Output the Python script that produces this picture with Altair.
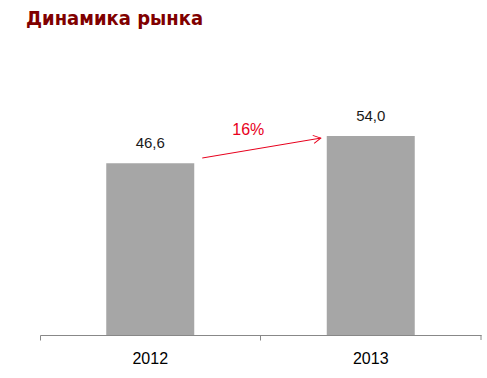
import altair as alt
import pandas as pd

years = ["2012", "2013"]
values = [46.6, 54.0]
value_labels = ["46,6", "54,0"]

# arrow (drawn between the bars) start/end levels, in chart units
arrow_years = ["2012", "2013"]
arrow_levels = [48.0, 53.4]
growth_label_level = 55.6

growth = round((values[1] / values[0] - 1) * 100)
growth_text = f"{growth}%"

bars_df = pd.DataFrame({"year": years, "value": values, "label": value_labels})
arrow_df = pd.DataFrame({
    "x": [arrow_years[0]], "x2": [arrow_years[1]],
    "y": [arrow_levels[0]], "y2": [arrow_levels[1]],
})
head_df = pd.DataFrame({"x": [arrow_years[1]], "y": [arrow_levels[1]]})
growth_df = pd.DataFrame({"x": [arrow_years[0]], "y": [growth_label_level], "t": [growth_text]})

W, H = 441, 295
x_scale = alt.Scale(domain=years, paddingInner=0, paddingOuter=0)
y_scale = alt.Scale(domain=[0, 80])

x_enc = alt.X(
    "year:N", scale=x_scale, title=None,
    axis=alt.Axis(
        labelAngle=0, bandPosition=0, ticks=True, tickSize=5,
        tickColor="#888888", domainColor="#888888",
        labelFont="Liberation Sans", labelFontSize=16, labelColor="#000000",
        labelPadding=10, grid=False,
    ),
)

bars = alt.Chart(bars_df).mark_bar(size=88, color="#A6A6A6").encode(
    x=x_enc,
    y=alt.Y("value:Q", scale=y_scale, axis=None),
)

labels = alt.Chart(bars_df).mark_text(
    baseline="bottom", dy=-12, font="Liberation Sans", fontSize=15, color="#1a1a1a"
).encode(
    x=alt.X("year:N", scale=x_scale),
    y=alt.Y("value:Q", scale=y_scale),
    text="label:N",
)

arrow = alt.Chart(arrow_df).mark_rule(
    color="#E8001C", strokeWidth=1, xOffset=52, x2Offset=-50
).encode(
    x=alt.X("x:N", scale=x_scale),
    x2="x2",
    y=alt.Y("y:Q", scale=y_scale),
    y2="y2",
)

head = alt.Chart(head_df).mark_point(
    shape="M-1,-0.55L0,0L-1,0.55", filled=False, color="#E8001C",
    strokeWidth=1, size=220, angle=350, xOffset=-50, opacity=1,
).encode(
    x=alt.X("x:N", scale=x_scale),
    y=alt.Y("y:Q", scale=y_scale),
)

growth_txt = alt.Chart(growth_df).mark_text(
    font="Liberation Sans", fontSize=16, color="#E8001C", xOffset=98
).encode(
    x=alt.X("x:N", scale=x_scale),
    y=alt.Y("y:Q", scale=y_scale),
    text="t:N",
)

edge_tick = alt.Chart(bars_df.head(1)).mark_rule(color="#888888").encode(
    x=alt.value(W), y=alt.value(H), y2=alt.value(H + 5)
)

chart = alt.layer(bars, labels, arrow, head, growth_txt, edge_tick).properties(
    width=W, height=H,
    background="white",
    title=alt.TitleParams(
        "Динамика рынка", anchor="start", frame="group",
        font="'Liberation Sans Narrow', 'DejaVu Sans Condensed', 'Liberation Sans', sans-serif",
        fontSize=20, fontWeight="bold",
        color="#800000", dx=-14, offset=11,
    ),
    autosize=alt.AutoSizeParams(type="none"),
    padding={"left": 40, "top": 40, "right": 6, "bottom": 43},
).configure_view(strokeWidth=0, stroke=None)

chart.save("out.html", embed_options={"renderer": "svg", "actions": False})
